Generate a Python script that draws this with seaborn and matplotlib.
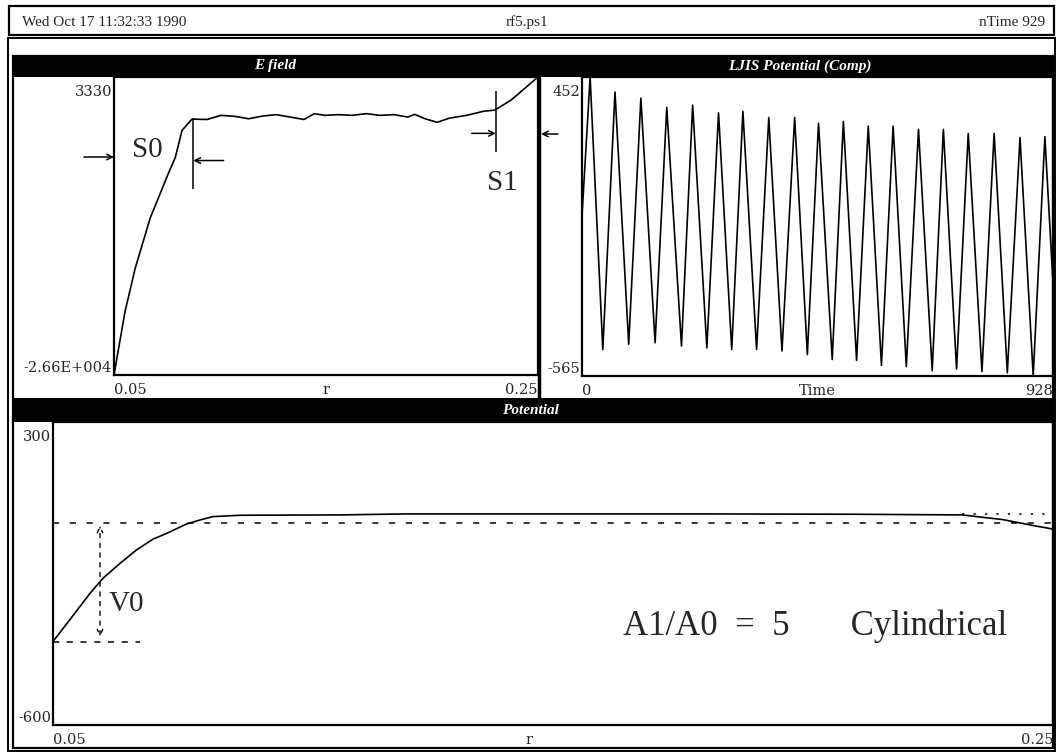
import numpy as np
import pandas as pd
import matplotlib
matplotlib.use("Agg")
import matplotlib.pyplot as plt
import seaborn as sns
from matplotlib.patches import Rectangle

sns.set_style("white")
plt.rcParams['font.family'] = ['Liberation Serif', 'DejaVu Serif']

# ---------------- data ----------------
header_left = "Wed Oct 17 11:32:33 1990"
header_mid = "rf5.ps1"
header_right = "nTime 929"

efield_title = "E field"
ljis_title = "LJIS Potential (Comp)"
pot_title = "Potential"

# E field vs r
efield_r = [0.0500, 0.0552, 0.0600, 0.0671, 0.0756, 0.0789, 0.0821, 0.0868,
            0.0939, 0.1004, 0.1070, 0.1135, 0.1200, 0.1266, 0.1331, 0.1396,
            0.1445, 0.1494, 0.1559, 0.1624, 0.1690, 0.1755, 0.1821, 0.1886,
            0.1918, 0.1968, 0.2024, 0.2082, 0.2163, 0.2244, 0.2297, 0.2375, 0.2500]
efield_v = [-26600, -20230, -15880, -10820, -6380, -4760, -2030, -900,
            -936, -522, -623, -866, -593, -451, -694, -936,
            -350, -522, -451, -522, -350, -522, -451, -694,
            -421, -866, -1220, -805, -522, -107, 4, 1045, 3330]
efield_ylim = (-26600, 3330)
efield_xlim = (0.05, 0.25)
efield_yticklabels = ["-2.66E+004", "3330"]
efield_xticklabels = ["0.05", "0.25"]

# LJIS potential vs time: extremes of the oscillation
ljis_start = (0, -20)
ljis_end = (928, -250)
ljis_peak_t = [16, 65, 116, 167, 218, 269, 317, 368, 419, 466, 515, 564, 613,
               663, 712, 761, 812, 863, 912]
ljis_peak_v = [452, 401, 380, 349, 356, 330, 335, 314, 314, 295, 301, 285, 285,
               274, 274, 260, 260, 246, 249]
ljis_trough_t = [41, 92, 144, 196, 246, 295, 344, 394, 444, 493, 541, 590, 639,
                 690, 738, 788, 838, 889]
ljis_trough_v = [-475, -457, -452, -463, -469, -475, -475, -480, -492, -509, -512,
                 -529, -533, -547, -541, -550, -554, -565]
ljis_ylim = (-565, 452)
ljis_xlim = (0, 928)
ljis_yticklabels = ["-565", "452"]
ljis_xticklabels = ["0", "928"]

# Potential vs r
pot_r = [0.0500, 0.0541, 0.0574, 0.0600, 0.0634, 0.0667, 0.0700, 0.0727,
         0.0767, 0.0794, 0.0820, 0.0874, 0.1073, 0.1207, 0.1433, 0.1800,
         0.2100, 0.2318, 0.2400, 0.2462, 0.2500]
pot_v = [-352, -273, -209, -164, -120, -80, -48, -31,
         -3, 9, 19, 23, 24, 27, 27, 27,
         26, 24, 10, -8, -18]
pot_ylim = (-600, 300)
pot_xlim = (0.05, 0.25)
pot_yticklabels = ["-600", "300"]
pot_xticklabels = ["0.05", "0.25"]

# annotation markers
S0_r, S0_top, S0_bot = 0.0874, -815, -7890
S0_arrow_from_r, S0_arrow_v = 0.1017, -5060
S1_r, S1_top, S1_bot = 0.2301, 1915, -4250
S1_arrow_from_r, S1_arrow_v = 0.2187, -2330
V0_level = -352
V0_line_end_r = 0.0674
V0_arrow_r = 0.0594
V1_level = 27
V1_line_start_r = 0.2318
caption = "A1/A0  =  5       Cylindrical"

# ---------------- layout helpers ----------------
W, H = 1058, 755
fig = plt.figure(figsize=(W / 100, H / 100), dpi=100)
TICK_FONT = ['DejaVu Serif']


def px_rect(x0, y0, x1, y1):
    return [x0 / W, 1 - y1 / H, (x1 - x0) / W, (y1 - y0) / H]


ov = fig.add_axes([0, 0, 1, 1])
ov.set_xlim(0, W)
ov.set_ylim(H, 0)
ov.axis('off')
ov.set_zorder(0)

# header box and frames
ov.add_patch(Rectangle((9, 6), 1045, 29, fill=False, ec='black', lw=1.6))
ov.add_patch(Rectangle((8, 38), 1047, 713, fill=False, ec='black', lw=1.4))
ov.add_patch(Rectangle((13, 56), 1040, 692, fill=False, ec='black', lw=1.6))
ov.add_patch(Rectangle((13, 56), 1040, 21, color='black', lw=0))
ov.add_patch(Rectangle((13, 398), 1040, 24, color='black', lw=0))
ov.plot([539, 539], [77, 398], color='black', lw=2.5)

ov.text(22, 22, header_left, ha='left', va='center', fontsize=11)
ov.text(527, 22, header_mid, ha='center', va='center', fontsize=11)
ov.text(1045, 22, header_right, ha='right', va='center', fontsize=11)

title_kw = dict(color='white', fontsize=11, fontweight='bold', fontstyle='italic',
                va='center', ha='center')
ov.text(275, 66, efield_title, **title_kw)
ov.text(800, 66, ljis_title, **title_kw)
ov.text(530, 410, pot_title, **title_kw)

# arrows outside axes
arrow_kw = dict(arrowstyle='->', color='black', lw=1.1, shrinkA=0, shrinkB=0)
ov.annotate('', xy=(114, 157), xytext=(84, 157), arrowprops=arrow_kw)
ov.annotate('', xy=(541, 134), xytext=(558, 134), arrowprops=arrow_kw)


def style_axes(ax, xlim, ylim, xticklabels, yticklabels, xlabel, xlabel_frac,
               h_px):
    ax.set_facecolor('none')
    ax.set_zorder(2)
    ax.set_xlim(*xlim)
    ax.set_ylim(*ylim)
    for s in ax.spines.values():
        s.set_visible(True)
        s.set_color('black')
        s.set_linewidth(1.6)
    ax.set_xticks([xlim[0], xlim[1]], xticklabels)
    ax.set_yticks([])
    ax.tick_params(axis='x', length=0, pad=6, labelsize=10.5)
    labs = ax.get_xticklabels()
    labs[0].set_ha('left')
    labs[1].set_ha('right')
    for lab in labs:
        lab.set_family(TICK_FONT)
    ax.set_xlabel(xlabel, fontsize=10.5, family=TICK_FONT)
    ax.set_ylabel('')
    ax.xaxis.label.set_va('center')
    ax.xaxis.set_label_coords(xlabel_frac, -15 / h_px)
    ax.annotate(yticklabels[1], xy=(0, 1), xycoords='axes fraction',
                xytext=(-2, -15), textcoords='offset pixels',
                ha='right', va='center', fontsize=10.5, family=TICK_FONT)
    ax.annotate(yticklabels[0], xy=(0, 0), xycoords='axes fraction',
                xytext=(-2, 7), textcoords='offset pixels',
                ha='right', va='center', fontsize=10.5, family=TICK_FONT)


# ---------------- E field ----------------
ax1 = fig.add_axes(px_rect(114, 77, 538, 375))
sns.lineplot(x=efield_r, y=efield_v, ax=ax1, color='black', linewidth=1.2,
             estimator=None, sort=False, legend=False)
style_axes(ax1, efield_xlim, efield_ylim, efield_xticklabels, efield_yticklabels,
           'r', 0.5, 298)
ax1.vlines(S0_r, S0_bot, S0_top, color='black', lw=1.1)
ax1.annotate('', xy=(S0_r, S0_arrow_v), xytext=(S0_arrow_from_r, S0_arrow_v),
             arrowprops=arrow_kw)
ax1.text(0.0656, -4050, 'S0', fontsize=21, ha='center', va='center')
ax1.vlines(S1_r, S1_bot, S1_top, color='black', lw=1.1)
ax1.annotate('', xy=(S1_r, S1_arrow_v), xytext=(S1_arrow_from_r, S1_arrow_v),
             arrowprops=arrow_kw)
ax1.text(0.2334, -7285, 'S1', fontsize=21, ha='center', va='center')

# ---------------- LJIS potential ----------------
ljis_df = pd.DataFrame({
    'Time': [ljis_start[0]] + ljis_peak_t + ljis_trough_t + [ljis_end[0]],
    'V': [ljis_start[1]] + ljis_peak_v + ljis_trough_v + [ljis_end[1]],
}).sort_values('Time')
ax2 = fig.add_axes(px_rect(582, 77, 1053, 376))
sns.lineplot(data=ljis_df, x='Time', y='V', ax=ax2, color='black', linewidth=1.2,
             estimator=None, sort=False, legend=False)
style_axes(ax2, ljis_xlim, ljis_ylim, ljis_xticklabels, ljis_yticklabels,
           'Time', 0.5, 299)

# ---------------- Potential ----------------
ax3 = fig.add_axes(px_rect(53, 422, 1053, 725))
sns.lineplot(x=pot_r, y=pot_v, ax=ax3, color='black', linewidth=1.2,
             estimator=None, sort=False, legend=False)
style_axes(ax3, pot_xlim, pot_ylim, pot_xticklabels, pot_yticklabels,
           'r', 0.476, 303)
ax3.hlines(0, pot_xlim[0], pot_xlim[1], color='black', lw=1.1,
           linestyles=(0, (4, 7)))
ax3.hlines(V0_level, pot_xlim[0], V0_line_end_r, color='black', lw=1.1,
           linestyles=(0, (4, 5)))
ax3.hlines(V1_level, V1_line_start_r, pot_xlim[1], color='black', lw=1.1,
           linestyles=(0, (1.5, 6)))
ax3.annotate('', xy=(V0_arrow_r, -8), xytext=(V0_arrow_r, V0_level + 15),
             arrowprops=dict(arrowstyle='<->', color='black', lw=1.0,
                             linestyle=(0, (3, 4)), shrinkA=0, shrinkB=0))
ax3.text(0.0646, -240, 'V0', fontsize=21, ha='center', va='center')
ax3.text(0.2025, -306, caption, fontsize=25, ha='center', va='center')

fig.savefig('out.png', dpi=100)
